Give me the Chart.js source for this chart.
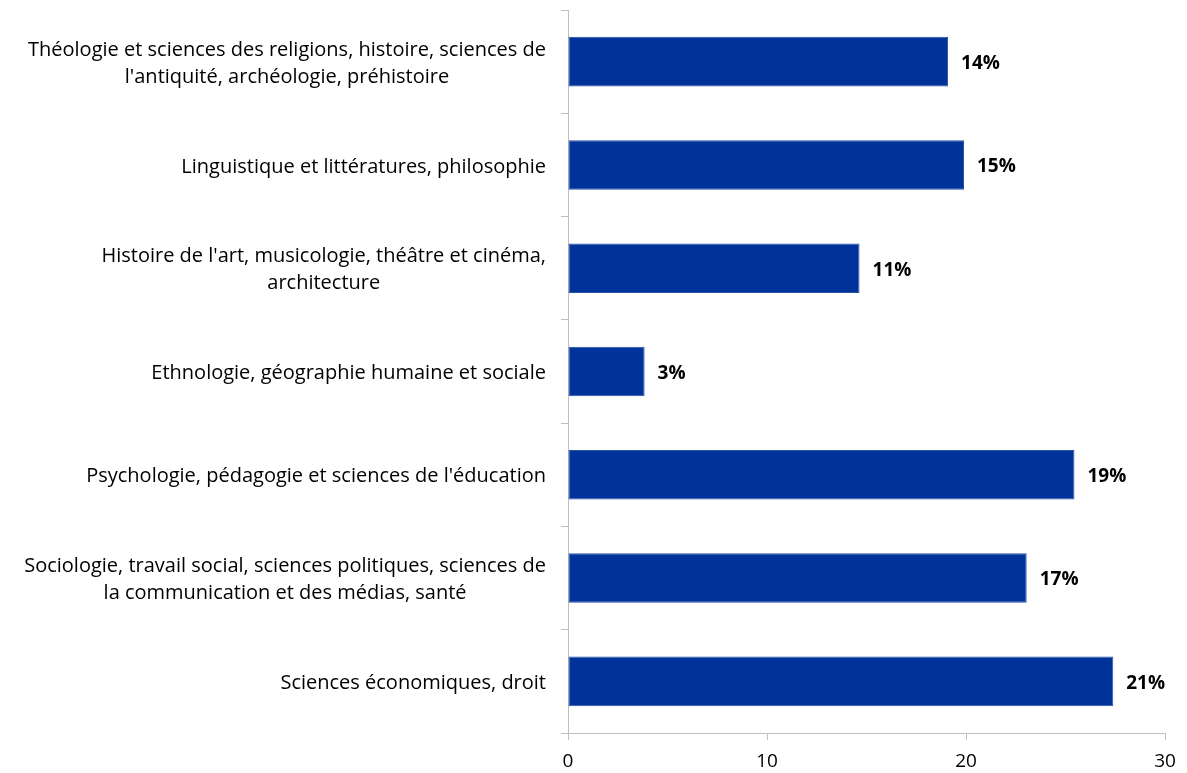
<!DOCTYPE html>
<html>
<head>
<meta charset="utf-8">
<script src="https://cdn.jsdelivr.net/npm/chart.js@4"></script>
<style>
html,body{margin:0;padding:0;background:#fff;}
#wrap{width:1187px;height:773px;position:relative;}
</style>
</head>
<body>
<div id="wrap"><canvas id="c" width="1187" height="773"></canvas></div>
<script>
const categories = [
  ["Théologie et sciences des religions, histoire, sciences de", "l'antiquité, archéologie, préhistoire"],
  ["Linguistique et littératures, philosophie"],
  ["Histoire de l'art, musicologie, théâtre et cinéma,", "architecture"],
  ["Ethnologie, géographie humaine et sociale"],
  ["Psychologie, pédagogie et sciences de l'éducation"],
  ["Sociologie, travail social, sciences politiques, sciences de", "la communication et des médias, santé"],
  ["Sciences économiques, droit"]
];
const values = [19.1, 19.9, 14.65, 3.85, 25.45, 23.05, 27.4];
const valueLabels = ["14%", "15%", "11%", "3%", "19%", "17%", "21%"];
const xTicks = [0, 10, 20, 30];

const FONT = "'Open Sans'";
const labelPlugin = {
  id: 'customLabels',
  afterDraw(chart) {
    const ctx = chart.ctx;
    const y = chart.scales.y;
    const meta = chart.getDatasetMeta(0);
    ctx.save();
    ctx.font = "20px " + FONT;
    ctx.fillStyle = "#000";
    ctx.textBaseline = "middle";
    ctx.textAlign = "center";
    const rightEdge = y.right - 22;
    const lh = 27;
    categories.forEach((lines, i) => {
      const cy = y.getPixelForValue(i) + 2;
      let w = 0;
      lines.forEach(l => { w = Math.max(w, ctx.measureText(l).width); });
      const cx = rightEdge - w / 2;
      const start = cy - (lines.length - 1) * lh / 2;
      lines.forEach((l, k) => ctx.fillText(l, cx, start + k * lh));
    });
    ctx.font = "bold 19px " + FONT;
    ctx.textAlign = "left";
    meta.data.forEach((bar, i) => {
      ctx.fillText(valueLabels[i], bar.x + 13, bar.y + 2);
    });
    ctx.restore();
  }
};

new Chart(document.getElementById('c'), {
  type: 'bar',
  data: {
    labels: categories,
    datasets: [{
      data: values,
      backgroundColor: '#003399',
      borderColor: '#2a52a8',
      borderWidth: 1,
      borderSkipped: false,
      categoryPercentage: 1,
      barPercentage: 0.48
    }]
  },
  options: {
    indexAxis: 'y',
    responsive: false,
    animation: false,
    devicePixelRatio: 1,
    layout: { padding: { top: 10, right: 22, left: 0, bottom: 0 } },
    plugins: { legend: { display: false }, tooltip: { enabled: false } },
    scales: {
      x: {
        min: 0, max: 30,
        afterBuildTicks(scale) { scale.ticks = xTicks.map(v => ({ value: v })); },
        afterFit(scale) { scale.height = 40; },
        grid: { drawOnChartArea: false, drawTicks: true, tickLength: 7, color: '#bfbfbf' },
        border: { display: true, color: '#bfbfbf' },
        ticks: { color: '#000', font: { family: "Open Sans", size: 19 }, padding: 10, maxRotation: 0 }
      },
      y: {
        afterFit(scale) { scale.width = 568; },
        grid: { drawOnChartArea: false, drawTicks: true, tickLength: 7, color: '#bfbfbf', offset: true },
        border: { display: true, color: '#bfbfbf' },
        ticks: { display: false }
      }
    }
  },
  plugins: [labelPlugin]
});
</script>
</body>
</html>
